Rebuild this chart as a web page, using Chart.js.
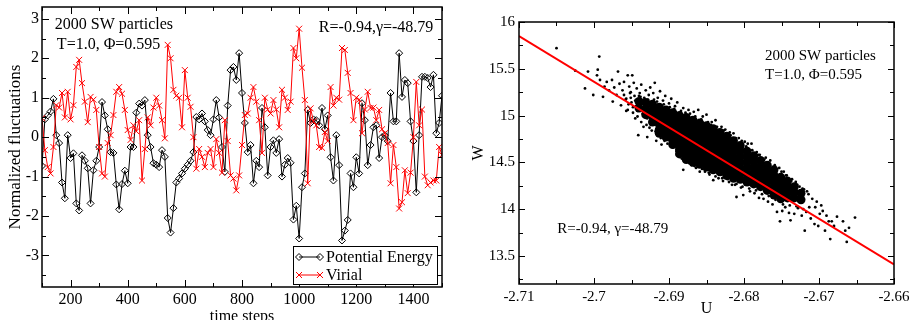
<!DOCTYPE html>
<html lang="en">
<head>
<meta charset="UTF-8">
<title>2000 SW particles - energy / virial fluctuations</title>
<script src="https://cdn.jsdelivr.net/npm/chart.js"></script>
<style>
    html, body { margin: 0; padding: 0; background: #fff; overflow: hidden; }
    #wrap { position: relative; width: 910px; height: 320px; overflow: hidden; }
    #leftChart { position: absolute; left: 0; top: 0; }
    #rightChart { position: absolute; left: 455px; top: 0; }
</style>
</head>
<body>
<div id="wrap">
    <canvas id="leftChart" width="455" height="332"></canvas>
    <canvas id="rightChart" width="455" height="332"></canvas>
</div>

<script>
    // ---- left panel: normalized fluctuations vs time ----
    const timeSteps = [
        100, 110, 120, 130, 140, 150, 160, 170, 180, 190,
        200, 210, 220, 230, 240, 250, 260, 270, 280, 290,
        300, 310, 320, 330, 340, 350, 360, 370, 380, 390,
        400, 410, 420, 430, 440, 450, 460, 470, 480, 490,
        500, 510, 520, 530, 540, 550, 560, 570, 580, 590,
        600, 610, 620, 630, 640, 650, 660, 670, 680, 690,
        700, 710, 720, 730, 740, 750, 760, 770, 780, 790,
        800, 810, 820, 830, 840, 850, 860, 870, 880, 890,
        900, 910, 920, 930, 940, 950, 960, 970, 980, 990,
        1000, 1010, 1020, 1030, 1040, 1050, 1060, 1070, 1080, 1090,
        1100, 1110, 1120, 1130, 1140, 1150, 1160, 1170, 1180, 1190,
        1200, 1210, 1220, 1230, 1240, 1250, 1260, 1270, 1280, 1290,
        1300, 1310, 1320, 1330, 1340, 1350, 1360, 1370, 1380, 1390,
        1400, 1410, 1420, 1430, 1440, 1450, 1460, 1470, 1480, 1490,
        1500
    ];

    const potentialEnergy = [
        -0.73, 0.45, 0.55, 0.65, 0.97, 0.05, -0.15, -1.15, -1.55, 0.05,
        -0.53, -0.41, -1.68, -1.86, -0.46, -0.6, -0.79, -1.68, -0.84, -0.6,
        -0.25, 0.89, 0.55, 0.2, -0.38, -0.4, -1.2, -1.83, -1.19, -0.85,
        -1.17, -0.25, -0.25, 0.62, 0.85, 0.8, 0.94, 0.05, -0.25, -0.66,
        -0.7, -0.76, -0.33, -0.5, -2.05, -2.42, -1.8, -1.15, -1.05, -0.92,
        -0.8, -0.7, -0.6, -0.38, 0.51, 0.45, 0.6, 0.4, 0.18, 0.05,
        0.45, 0.94, 0.5, -0.25, -0.88, 0.8, 1.7, 1.78, 1.45, 2.13,
        1.12, 0.36, -0.38, -0.2, -1.17, -0.6, -0.76, 0.74, 0.25, -0.97,
        -0.25, -0.08, -0.4, -0.05, -1.0, -0.7, -0.53, -0.65, -2.09, -1.74,
        -2.57, -1.27, -0.92, 0.69, 0.36, 0.45, 0.43, 0.3, 0.74, 0.2,
        0.55, -0.51, -1.1, 0.05, -0.71, -2.62, -2.37, -2.1, -0.92, -1.27,
        -0.51, -0.92, 0.86, 0.43, -0.71, -0.2, 0.25, 0.3, -0.53, 0.0,
        0.05, -0.1, 1.12, 0.4, 0.4, 2.13, 1.02, 1.45, 1.37, 0.4,
        -0.1, -1.4, 0.05, 1.53, 1.53, 1.5, 1.27, 1.58, 0.1, 0.36,
        1.05
    ];

    const virial = [
        0.48, -0.33, -0.76, -0.92, -0.25, 0.81, 0.75, 1.12, 0.5, 1.15,
        0.45, 0.81, 1.78, 1.96, 1.37, 0.9, 0.38, 1.02, 0.95, 0.69,
        -0.25, -0.92, -1.0, -0.15, 0.05, 0.56, 1.15, 1.27, 1.1, 0.69,
        0.18, -0.07, 0.3, 0.15, 0.43, -1.1, -0.3, 0.5, 0.3, 0.75,
        1.0, 0.8, 0.43, -0.03, 2.34, 2.0, 1.2, 1.05, 1.0, 0.25,
        1.7, 1.0, 0.77, 0.0, -0.8, -0.3, -0.5, -0.76, -0.4, -0.3,
        -0.76, -0.05, -0.4, -0.9, 0.43, -0.1, -0.97, -1.05, -1.35, -0.97,
        -0.2, 0.56, 0.6, 1.0, 1.27, 0.9, 0.43, -0.4, 1.0, 0.7,
        0.6, 0.94, 0.7, 0.25, 1.2, 1.0, 0.69, 0.9, 2.26, 2.0,
        2.75, 1.76, 0.94, -1.17, 0.73, 0.4, 0.3, -0.25, -0.27, 0.13,
        -0.1, 1.27, 0.8, 1.0, 0.95, 2.26, 2.21, 1.63, 1.12, 0.43,
        1.0, 0.95, 0.1, 0.7, 1.15, 0.74, 0.75, 0.43, 0.69, 0.2,
        0.1, -0.15, -1.17, -0.2, -0.76, -1.81, -1.65, -0.84, -1.42, -0.9,
        0.0, 1.4, 0.3, 0.7, -1.0, -1.22, -1.15, -1.1, -1.1, -0.25,
        -0.45
    ];

    const leftXTicks = [200, 400, 600, 800, 1000, 1200, 1400];
    const leftXMinor = [100, 300, 500, 700, 900, 1100, 1300, 1500];
    const leftYTicks = [-3, -2, -1, 0, 1, 2, 3];
    const leftYMinor = [-3.5, -2.5, -1.5, -0.5, 0.5, 1.5, 2.5];

    // ---- right panel: W against U ----
    // dense middle of the cloud, one list of W per U column
    const coreU = [
        -2.6940, -2.6931, -2.6922, -2.6913, -2.6904, -2.6895, -2.6886,
        -2.6877, -2.6868, -2.6859, -2.6850, -2.6841, -2.6832, -2.6823, -2.6814, -2.6805,
        -2.6796, -2.6787, -2.6778, -2.6769, -2.6760, -2.6751, -2.6742, -2.6733, -2.6724
    ];
    const coreW = [
        [15.15, 15.08],
        [15.14, 15.07, 15.01],
        [15.12, 15.05, 14.99, 14.93],
        [15.09, 15.03, 14.97, 14.91, 14.85, 14.81],
        [15.06, 15.00, 14.94, 14.88, 14.82, 14.77],
        [15.03, 14.97, 14.91, 14.85, 14.79, 14.73, 14.69],
        [15.00, 14.94, 14.88, 14.82, 14.76, 14.70, 14.64, 14.59],
        [14.98, 14.92, 14.86, 14.80, 14.74, 14.68, 14.62, 14.56, 14.53],
        [14.95, 14.89, 14.83, 14.77, 14.71, 14.65, 14.59, 14.53, 14.50],
        [14.92, 14.86, 14.80, 14.74, 14.68, 14.62, 14.56, 14.50, 14.48],
        [14.89, 14.83, 14.77, 14.71, 14.65, 14.59, 14.53, 14.47, 14.45],
        [14.86, 14.80, 14.74, 14.68, 14.62, 14.56, 14.50, 14.44, 14.42],
        [14.82, 14.76, 14.70, 14.64, 14.58, 14.52, 14.46, 14.40],
        [14.78, 14.72, 14.66, 14.60, 14.54, 14.48, 14.42, 14.36],
        [14.73, 14.67, 14.61, 14.55, 14.49, 14.43, 14.37, 14.33],
        [14.68, 14.62, 14.56, 14.50, 14.44, 14.38, 14.32],
        [14.62, 14.56, 14.50, 14.44, 14.38, 14.32, 14.29],
        [14.57, 14.51, 14.45, 14.39, 14.33, 14.27],
        [14.52, 14.46, 14.40, 14.34, 14.28, 14.24],
        [14.47, 14.41, 14.35, 14.29, 14.23, 14.20],
        [14.42, 14.36, 14.30, 14.24, 14.18, 14.15],
        [14.34, 14.28, 14.22, 14.16, 14.11],
        [14.30, 14.24, 14.18, 14.12],
        [14.24, 14.18, 14.12],
        [14.17, 14.10]
    ];

    // scattered samples round the edge of the cloud, [U, W]
    const edgePoints = [
        [-2.7050, 15.72], [-2.7025, 15.48], [-2.7012, 15.29], [-2.7008, 15.47], [-2.7001, 15.22],
        [-2.6996, 15.43], [-2.6995, 15.49], [-2.6993, 15.63], [-2.6992, 15.38], [-2.6988, 15.20],
        [-2.6986, 15.31], [-2.6983, 15.36], [-2.6980, 15.27], [-2.6976, 15.38], [-2.6975, 15.15],
        [-2.6973, 15.30], [-2.6970, 15.22], [-2.6968, 15.47], [-2.6966, 15.34], [-2.6964, 15.11],
        [-2.6962, 15.27], [-2.6960, 15.36], [-2.6957, 15.05], [-2.6955, 15.43], [-2.6953, 15.31],
        [-2.6951, 15.25], [-2.6949, 15.43], [-2.6947, 15.35], [-2.6945, 14.97], [-2.6943, 15.29],
        [-2.6941, 14.79], [-2.6939, 15.24], [-2.6937, 15.33], [-2.6936, 15.15], [-2.6934, 14.88],
        [-2.6931, 15.27], [-2.6929, 14.77], [-2.6927, 15.22], [-2.6925, 15.30], [-2.6923, 14.84],
        [-2.6921, 15.24], [-2.6919, 15.35], [-2.6917, 14.73], [-2.6915, 15.19], [-2.6912, 15.26],
        [-2.6910, 14.69], [-2.6908, 15.16], [-2.6905, 15.21], [-2.6902, 14.70], [-2.6900, 15.13],
        [-2.6897, 15.18], [-2.6895, 14.66], [-2.6892, 15.10], [-2.6889, 15.14], [-2.6887, 14.58],
        [-2.6885, 14.56], [-2.6881, 15.08], [-2.6881, 14.42], [-2.6876, 14.51], [-2.6874, 15.06],
        [-2.6870, 14.47], [-2.6867, 15.04], [-2.6864, 14.44], [-2.6861, 15.06], [-2.6859, 14.40],
        [-2.6855, 14.99], [-2.6852, 14.40], [-2.6850, 15.01], [-2.6846, 14.37], [-2.6843, 14.93],
        [-2.6841, 14.31], [-2.6838, 14.95], [-2.6834, 14.33], [-2.6830, 14.88], [-2.6828, 14.30],
        [-2.6825, 14.85], [-2.6822, 14.32], [-2.6819, 14.82], [-2.6814, 14.81], [-2.6816, 14.26],
        [-2.6810, 14.13], [-2.6810, 14.27], [-2.6807, 14.76], [-2.6804, 14.23], [-2.6801, 14.15],
        [-2.6799, 14.72], [-2.6795, 14.70], [-2.6792, 14.19], [-2.6790, 14.70], [-2.6786, 14.17],
        [-2.6783, 14.61], [-2.6780, 14.12], [-2.6779, 14.58], [-2.6774, 14.11], [-2.6771, 14.55],
        [-2.6768, 14.08], [-2.6765, 14.52], [-2.6762, 14.05], [-2.6759, 14.47], [-2.6756, 13.97],
        [-2.6753, 14.44], [-2.6752, 13.87], [-2.6749, 13.98], [-2.6747, 14.40], [-2.6745, 14.02],
        [-2.6743, 14.36], [-2.6740, 13.96], [-2.6738, 13.88], [-2.6736, 14.32], [-2.6733, 13.95],
        [-2.6731, 14.29], [-2.6728, 14.01], [-2.6726, 14.24], [-2.6723, 13.93], [-2.6720, 14.21],
        [-2.6719, 13.77], [-2.6717, 13.97], [-2.6714, 14.16], [-2.6711, 13.90], [-2.6709, 14.11],
        [-2.6706, 13.84], [-2.6705, 14.02], [-2.6703, 14.08], [-2.6701, 13.82], [-2.6699, 13.95],
        [-2.6697, 14.04], [-2.6695, 13.98], [-2.6692, 13.77], [-2.6690, 13.93], [-2.6687, 13.87],
        [-2.6685, 13.68], [-2.6683, 13.87], [-2.6680, 13.82], [-2.6676, 13.92], [-2.6668, 13.87],
        [-2.6665, 13.77], [-2.6663, 13.65], [-2.6660, 13.80], [-2.6652, 13.91],
        // just outside the upper side of the dense part
        [-2.6960, 15.22], [-2.6957, 15.18], [-2.6952, 15.24], [-2.6950, 15.14], [-2.6946, 15.21],
        [-2.6944, 15.10], [-2.6938, 15.20], [-2.6933, 15.19], [-2.6928, 15.17], [-2.6920, 15.17],
        [-2.6916, 15.15], [-2.6907, 15.12], [-2.6899, 15.09], [-2.6893, 15.07], [-2.6884, 15.05],
        [-2.6878, 15.03], [-2.6872, 15.02], [-2.6865, 14.99], [-2.6857, 14.96], [-2.6848, 14.93],
        [-2.6844, 14.90], [-2.6836, 14.88], [-2.6827, 14.84], [-2.6818, 14.79], [-2.6811, 14.76],
        [-2.6803, 14.73], [-2.6797, 14.67], [-2.6789, 14.63], [-2.6781, 14.58], [-2.6773, 14.53],
        [-2.6766, 14.48], [-2.6758, 14.44], [-2.6750, 14.40], [-2.6744, 14.36], [-2.6737, 14.30],
        [-2.6729, 14.26], [-2.6722, 14.22], [-2.6716, 14.19],
        // just outside the lower side
        [-2.6955, 15.06], [-2.6948, 15.03], [-2.6942, 14.99], [-2.6937, 14.93], [-2.6930, 14.90],
        [-2.6926, 14.87], [-2.6918, 14.83], [-2.6911, 14.76], [-2.6906, 14.73], [-2.6898, 14.68],
        [-2.6890, 14.62], [-2.6883, 14.54], [-2.6873, 14.49], [-2.6866, 14.46], [-2.6856, 14.43],
        [-2.6847, 14.39], [-2.6838, 14.35], [-2.6829, 14.33], [-2.6820, 14.29], [-2.6812, 14.26],
        [-2.6802, 14.24], [-2.6793, 14.22], [-2.6784, 14.20], [-2.6776, 14.16], [-2.6767, 14.14],
        [-2.6758, 14.10], [-2.6748, 14.05], [-2.6739, 14.04], [-2.6730, 14.03], [-2.6721, 14.00],
        [-2.6713, 14.02],
        // thinning left end of the dense part
        [-2.6958, 15.17], [-2.6954, 15.12], [-2.6951, 15.19], [-2.6948, 15.09], [-2.6945, 15.16],
        [-2.6942, 15.05], [-2.6940, 15.21], [-2.6935, 15.02], [-2.6933, 15.12], [-2.6929, 14.97]
    ];

    // linear fit W = a + gamma * U
    const fitU = [-2.71, -2.66];
    const fitW = [15.85, 13.41];

    const rightXTicks = [-2.71, -2.7, -2.69, -2.68, -2.67, -2.66];
    const rightXMinor = [-2.705, -2.695, -2.685, -2.675, -2.665];
    const rightYTicks = [13.5, 14, 14.5, 15, 15.5, 16];
    const rightYMinor = [13.25, 13.75, 14.25, 14.75, 15.25, 15.75];

    const serif = 'Liberation Serif';
    Chart.defaults.font.family = serif;
    Chart.defaults.color = '#000';

    // box round the plot area with inward ticks on every side
    function frameTicks(xMajor, xMinor, yMajor, yMinor, majorLen, minorLen) {
        return {
            id: 'frameTicks',
            afterDatasetsDraw(chart) {
                const { ctx, chartArea: a } = chart;
                const sx = chart.scales.x, sy = chart.scales.y;
                ctx.save();
                ctx.strokeStyle = '#000';
                ctx.lineWidth = 1;
                ctx.beginPath();
                const onX = (vals, len) => vals.forEach(v => {
                    const p = Math.round(sx.getPixelForValue(v)) + 0.5;
                    ctx.moveTo(p, a.bottom); ctx.lineTo(p, a.bottom - len);
                    ctx.moveTo(p, a.top); ctx.lineTo(p, a.top + len);
                });
                const onY = (vals, len) => vals.forEach(v => {
                    const p = Math.round(sy.getPixelForValue(v)) + 0.5;
                    ctx.moveTo(a.left, p); ctx.lineTo(a.left + len, p);
                    ctx.moveTo(a.right, p); ctx.lineTo(a.right - len, p);
                });
                onX(xMajor, majorLen); onX(xMinor, minorLen);
                onY(yMajor, majorLen); onY(yMinor, minorLen);
                ctx.stroke();
                ctx.lineWidth = 1.5;
                ctx.strokeRect(a.left, a.top, a.right - a.left, a.bottom - a.top);
                ctx.restore();
            }
        };
    }

    // free text placed in data coordinates
    function notes(items, size) {
        return {
            id: 'notes',
            afterDraw(chart) {
                const { ctx } = chart;
                const sx = chart.scales.x, sy = chart.scales.y;
                ctx.save();
                ctx.fillStyle = '#000';
                ctx.textBaseline = 'middle';
                ctx.textAlign = 'left';
                ctx.font = size + 'px "' + serif + '"';
                items.forEach(it => ctx.fillText(it.text, sx.getPixelForValue(it.x), sy.getPixelForValue(it.y)));
                ctx.restore();
            }
        };
    }

    function diamond(ctx, x, y, r) {
        ctx.moveTo(x, y - r); ctx.lineTo(x + r, y); ctx.lineTo(x, y + r); ctx.lineTo(x - r, y); ctx.closePath();
    }
    function cross(ctx, x, y, r) {
        ctx.moveTo(x - r, y - r); ctx.lineTo(x + r, y + r);
        ctx.moveTo(x - r, y + r); ctx.lineTo(x + r, y - r);
    }

    // legend box in the lower right corner of the left plot
    const legendBox = {
        id: 'legendBox',
        afterDraw(chart) {
            const { ctx, chartArea: a } = chart;
            const bx = a.right - 149, by = a.bottom - 41, bw = 144, bh = 38;
            ctx.save();
            ctx.fillStyle = '#fff';
            ctx.fillRect(bx, by, bw, bh);
            ctx.strokeStyle = '#000';
            ctx.lineWidth = 1;
            ctx.strokeRect(bx + 0.5, by + 0.5, bw, bh);

            const rows = [
                { label: 'Potential Energy', color: '#000', mark: diamond, r: 3.5, y: by + 11 },
                { label: 'Virial', color: '#f00', mark: cross, r: 3, y: by + 29 }
            ];
            rows.forEach(row => {
                const x0 = bx + 6, x1 = bx + 27;
                ctx.strokeStyle = row.color;
                ctx.beginPath();
                ctx.moveTo(x0, row.y); ctx.lineTo(x1, row.y);
                ctx.stroke();
                ctx.beginPath();
                row.mark(ctx, x0, row.y, row.r);
                row.mark(ctx, x1, row.y, row.r);
                ctx.stroke();
                ctx.fillStyle = '#000';
                ctx.font = '16px "' + serif + '"';
                ctx.textBaseline = 'middle';
                ctx.fillText(row.label, bx + 33, row.y + 1);
            });
            ctx.restore();
        }
    };

    function fixedTicks(list) {
        return scale => { scale.ticks = list.map(v => ({ value: v })); };
    }
    function fixSize(key, size) {
        return scale => {
            scale[key] = size;
            scale.paddingTop = 0; scale.paddingBottom = 0;
            scale.paddingLeft = 0; scale.paddingRight = 0;
        };
    }

    new Chart(document.getElementById('leftChart'), {
        type: 'line',
        data: {
            datasets: [
                {
                    label: 'Potential Energy',
                    data: timeSteps.map((t, i) => ({ x: t, y: potentialEnergy[i] })),
                    borderColor: '#000',
                    borderWidth: 1,
                    pointStyle: 'rectRot',
                    pointRadius: 3.5,
                    pointBorderWidth: 1,
                    pointBorderColor: '#000',
                    pointBackgroundColor: 'rgba(0,0,0,0)',
                    tension: 0,
                    order: 2
                },
                {
                    label: 'Virial',
                    data: timeSteps.map((t, i) => ({ x: t, y: virial[i] })),
                    borderColor: '#f00',
                    borderWidth: 1,
                    pointStyle: 'crossRot',
                    pointRadius: 4.2,
                    pointBorderWidth: 1,
                    pointBorderColor: '#f00',
                    tension: 0,
                    order: 1
                }
            ]
        },
        options: {
            responsive: false,
            animation: false,
            devicePixelRatio: 1,
            events: [],
            layout: { padding: { left: 0, right: 13, top: 7, bottom: 0 } },
            plugins: { legend: { display: false }, tooltip: { enabled: false } },
            scales: {
                x: {
                    type: 'linear', min: 100, max: 1500,
                    grid: { display: false, drawTicks: false },
                    border: { display: false },
                    afterBuildTicks: fixedTicks(leftXTicks),
                    afterFit: fixSize('height', 45),
                    ticks: { font: { size: 16 }, padding: 3, maxRotation: 0, autoSkip: false, callback: v => String(v) },
                    title: { display: true, text: 'time steps', font: { size: 16 }, padding: { top: 0, bottom: 6 } }
                },
                y: {
                    type: 'linear', min: -3.8, max: 3.3,
                    grid: { display: false, drawTicks: false },
                    border: { display: false },
                    afterBuildTicks: fixedTicks(leftYTicks),
                    afterFit: fixSize('width', 42),
                    ticks: { font: { size: 16 }, padding: 3, autoSkip: false, callback: v => String(v) },
                    title: { display: true, text: 'Normalized fluctuations', font: { size: 17 }, padding: { top: 5, bottom: 0 } }
                }
            }
        },
        plugins: [
            frameTicks(leftXTicks, leftXMinor, leftYTicks, leftYMinor, 7, 4),
            notes([
                { text: '2000 SW particles', x: 145, y: 2.84 },
                { text: 'T=1.0, \u03A6=0.595', x: 152, y: 2.34 },
                { text: 'R=-0.94,\u03B3=-48.79', x: 1069, y: 2.77 }
            ], 16),
            legendBox
        ]
    });

    const corePoints = coreU.flatMap((u, i) => coreW[i].map(w => ({ x: u, y: w })));

    new Chart(document.getElementById('rightChart'), {
        type: 'scatter',
        data: {
            datasets: [
                {
                    label: 'fit',
                    type: 'line',
                    data: fitU.map((u, i) => ({ x: u, y: fitW[i] })),
                    borderColor: '#f00',
                    borderWidth: 2,
                    pointRadius: 0,
                    showLine: true,
                    order: 0
                },
                {
                    label: 'edge',
                    data: edgePoints.map(p => ({ x: p[0], y: p[1] })),
                    pointStyle: 'circle',
                    pointRadius: 1.4,
                    pointBorderWidth: 0,
                    pointBackgroundColor: '#000',
                    order: 1
                },
                {
                    label: 'core',
                    data: corePoints,
                    pointStyle: 'circle',
                    pointRadius: 4.5,
                    pointBorderWidth: 0,
                    pointBackgroundColor: '#000',
                    order: 2
                }
            ]
        },
        options: {
            responsive: false,
            animation: false,
            devicePixelRatio: 1,
            events: [],
            layout: { padding: { left: 0, right: 16, top: 22, bottom: 0 } },
            plugins: { legend: { display: false }, tooltip: { enabled: false } },
            scales: {
                x: {
                    type: 'linear', min: -2.71, max: -2.66,
                    grid: { display: false, drawTicks: false },
                    border: { display: false },
                    afterBuildTicks: fixedTicks(rightXTicks),
                    afterFit: fixSize('height', 48),
                    ticks: { font: { size: 15 }, padding: 4, maxRotation: 0, autoSkip: false, callback: v => String(v) },
                    title: { display: true, text: 'U', font: { size: 16 }, padding: { top: 0, bottom: 14 } }
                },
                y: {
                    type: 'linear', min: 13.2, max: 16,
                    grid: { display: false, drawTicks: false },
                    border: { display: false },
                    afterBuildTicks: fixedTicks(rightYTicks),
                    afterFit: fixSize('width', 64),
                    ticks: { font: { size: 15 }, padding: 4, autoSkip: false, callback: v => String(v) },
                    title: { display: true, text: 'W', font: { size: 16 }, padding: { top: 14, bottom: 0 } }
                }
            }
        },
        plugins: [
            frameTicks(rightXTicks, rightXMinor, rightYTicks, rightYMinor, 6, 4),
            notes([
                { text: '2000 SW particles', x: -2.6772, y: 15.64 },
                { text: 'T=1.0, \u03A6=0.595', x: -2.6772, y: 15.43 },
                { text: 'R=-0.94, \u03B3=-48.79', x: -2.7049, y: 13.79 }
            ], 15)
        ]
    });
</script>
</body>
</html>
